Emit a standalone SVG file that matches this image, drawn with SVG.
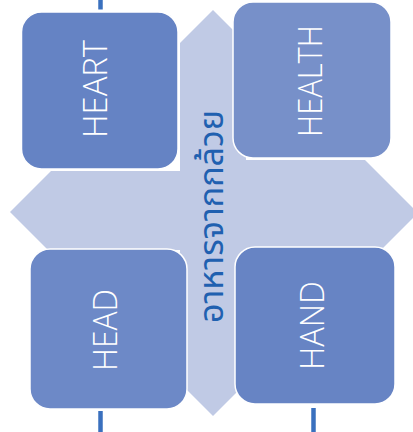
<svg xmlns="http://www.w3.org/2000/svg" width="413" height="432" viewBox="0 0 413 432">
  <style>
    .box { stroke: #FFFFFF; stroke-width: 1.5; }
    .lbl { font-family: "Open Sans", "Liberation Sans", sans-serif; font-weight: 300; font-size: 33px; fill: #FFFFFF; text-anchor: middle; }
    .conn { stroke: #3A70BE; stroke-width: 4.5; fill: none; }
    .thai { font-family: "Noto Sans Thai", "Noto Sans", "DejaVu Sans", sans-serif; font-weight: 400; font-size: 33px; fill: #2060B0; text-anchor: middle; }
  </style>
  <rect width="413" height="432" fill="#FFFFFF"/>
  <g id="connectors">
    <line class="conn" x1="100.5" y1="0" x2="100.5" y2="9.5"/>
    <line class="conn" x1="100.5" y1="411" x2="100.5" y2="432"/>
    <line class="conn" x1="313.5" y1="408" x2="313.5" y2="432"/>
  </g>
  <g id="arrow">
    <polygon fill="#C0CAE5" points="213,10 246,43 246,160 365,160 418,213 383,248 246,248 246,383 213,416 180,383 180,250 48,250 10,212 51,171 180,171 180,43"/>
    <text class="thai" x="223" y="216.5" transform="rotate(-90 223 216.5)" textLength="213" lengthAdjust="spacingAndGlyphs">อาหารจากกล้วย</text>
  </g>
  <g id="heart">
    <rect class="box" x="21.5" y="12" width="156.5" height="157" rx="20" fill="#6583C4"/>
    <text class="lbl" x="107" y="89" transform="rotate(-90 107 89)" textLength="98" lengthAdjust="spacingAndGlyphs">HEART</text>
  </g>
  <g id="health">
    <rect class="box" x="233" y="2" width="158" height="156" rx="20" fill="#7790C9"/>
    <text class="lbl" x="322" y="81" transform="rotate(-90 322 81)" textLength="112" lengthAdjust="spacingAndGlyphs">HEALTH</text>
  </g>
  <g id="head">
    <rect class="box" x="30" y="249" width="157" height="160" rx="20" fill="#6D89C7"/>
    <text class="lbl" x="117" y="330" transform="rotate(-90 117 330)" textLength="82" lengthAdjust="spacingAndGlyphs">HEAD</text>
  </g>
  <g id="hand">
    <rect class="box" x="235" y="247" width="160" height="157" rx="20" fill="#6784C4"/>
    <text class="lbl" x="324" y="325.5" transform="rotate(-90 324 325.5)" textLength="89" lengthAdjust="spacingAndGlyphs">HAND</text>
  </g>
</svg>
